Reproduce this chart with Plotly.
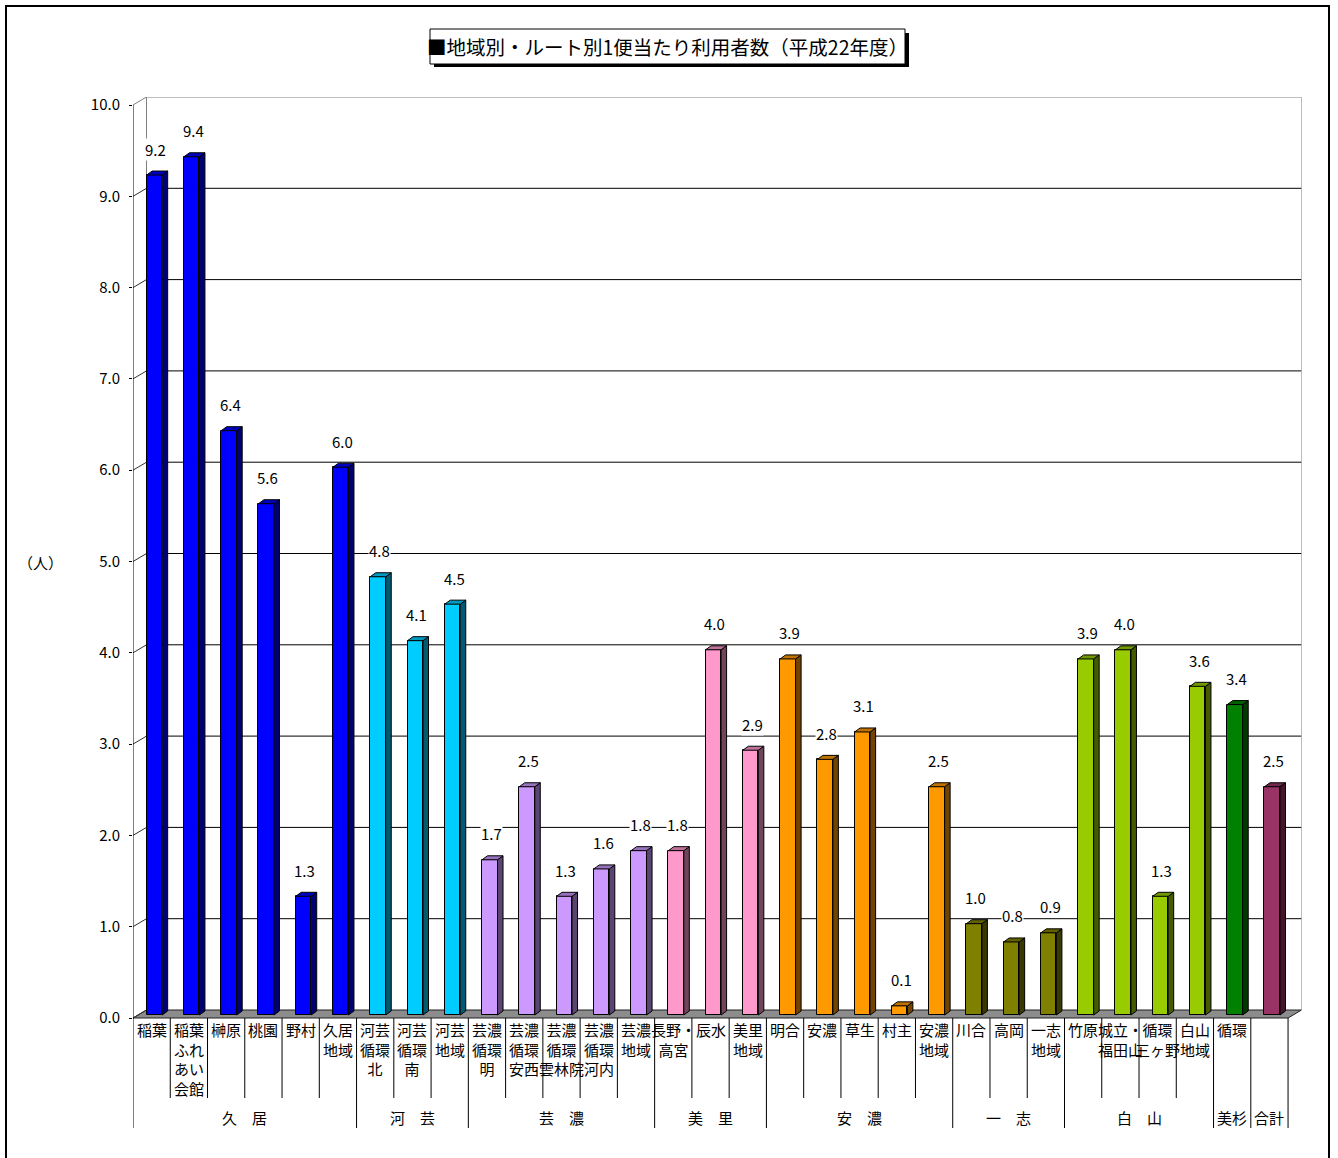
import plotly.graph_objects as go

# ---------------- data ----------------
groups = ["久　居", "河　芸", "芸　濃", "美　里", "安　濃", "一　志", "白　山", "美杉", "合計"]
group_sizes = [6, 3, 5, 3, 5, 3, 4, 1, 1]
group_colors = ["#0000FF", "#00CCFF", "#CC99FF", "#FF99CC", "#FF9900",
                "#808000", "#99CC00", "#008000", "#993366"]

routes = [
    "稲葉", "稲葉\nふれ\nあい\n会館", "榊原", "桃園", "野村", "久居\n地域",
    "河芸\n循環\n北", "河芸\n循環\n南", "河芸\n地域",
    "芸濃\n循環\n明", "芸濃\n循環\n安西", "芸濃\n循環\n雲林院", "芸濃\n循環\n河内", "芸濃\n地域",
    "長野・\n高宮", "辰水", "美里\n地域",
    "明合", "安濃", "草生", "村主", "安濃\n地域",
    "川合", "高岡", "一志\n地域",
    "竹原", "城立・\n福田山", "循環\n三ヶ野", "白山\n地域",
    "循環",
    "",
]

riders = [
    9.2, 9.4, 6.4, 5.6, 1.3, 6.0,
    4.8, 4.1, 4.5,
    1.7, 2.5, 1.3, 1.6, 1.8,
    1.8, 4.0, 2.9,
    3.9, 2.8, 3.1, 0.1, 2.5,
    1.0, 0.8, 0.9,
    3.9, 4.0, 1.3, 3.6,
    3.4,
    2.5,
]

y_ticks = [0, 1, 2, 3, 4, 5, 6, 7, 8, 9, 10]

title = "■地域別・ルート別1便当たり利用者数（平成22年度）"
y_title = "（人）"

# ---------------- geometry (page pixels) ----------------
W, H = 1338, 1158
FONT = "Noto Sans CJK JP"
n = len(routes)

PX_LEFT = 133.0        # front-left corner of the plot
CAT_PX = 37.26         # pixels per category
VAL_PX = 91.3          # pixels per unit on the value axis
Y0_PX = 1018.0         # front zero line
PLOT_BOTTOM_PX = 1020.0
PLOT_TOP_PX = 97.0
DEPTH_PX = (13.5, 8.0)  # oblique depth of the back wall

DX = DEPTH_PX[0] / CAT_PX
DY = DEPTH_PX[1] / VAL_PX
BAR_W = 15.5 / CAT_PX
BAR_SHIFT = 2.8 / CAT_PX
BAR_LIFT = 3.0 / VAL_PX
SIDE_DX = 5.5 / CAT_PX
SIDE_DY = 4.0 / VAL_PX


def px_x(p):
    return p / W


def px_y(p):
    return (H - p) / H


def shade(hex_color, f):
    h = hex_color.lstrip("#")
    r, g, b = (int(h[k:k + 2], 16) for k in (0, 2, 4))
    return "#%02X%02X%02X" % (int(r * f), int(g * f), int(b * f))


# colour of every bar from its group
bar_colors = []
for size, col in zip(group_sizes, group_colors):
    bar_colors += [col] * size

fig = go.Figure()

# front faces of the columns
fig.add_trace(go.Bar(
    x=list(range(n)), y=riders, base=[BAR_LIFT] * n,
    width=BAR_W, offset=BAR_SHIFT - BAR_W / 2,
    marker=dict(color=bar_colors, line=dict(color="#000000", width=1)),
    hoverinfo="skip", showlegend=False,
))

# side and top faces of the columns
for i, v in enumerate(riders):
    xl = i + BAR_SHIFT - BAR_W / 2
    xr = xl + BAR_W
    b = BAR_LIFT
    t = b + v
    side_x = [xr, xr + SIDE_DX, xr + SIDE_DX, xr, xr]
    side_y = [b, b + SIDE_DY, t + SIDE_DY, t, b]
    top_x = [xl, xr, xr + SIDE_DX, xl + SIDE_DX, xl]
    top_y = [t, t, t + SIDE_DY, t + SIDE_DY, t]
    for xs, ys, f in ((side_x, side_y, 0.45), (top_x, top_y, 0.75)):
        fig.add_trace(go.Scatter(
            x=xs, y=ys, mode="lines", fill="toself",
            fillcolor=shade(bar_colors[i], f),
            line=dict(color="#000000", width=1),
            hoverinfo="skip", showlegend=False,
        ))

shapes = []

# floor
x_lo, x_hi = -0.5, n - 0.5
shapes.append(dict(
    type="path", xref="x", yref="y", layer="below",
    path=f"M {x_lo},0 L {x_hi},0 L {x_hi + DX},{DY} L {x_lo + DX},{DY} Z",
    fillcolor="#8C8C8C", line=dict(color="#202020", width=1),
))

# back wall gridlines
for v in y_ticks[1:-1]:
    shapes.append(dict(type="line", xref="x", yref="y", layer="below",
                       x0=x_lo + DX, x1=x_hi + DX, y0=v + DY, y1=v + DY,
                       line=dict(color="#000000", width=1)))
# back wall border
top = y_ticks[-1]
wall = "#808080"
shapes.append(dict(type="path", xref="x", yref="y", layer="below",
                   path=f"M {x_lo + DX},{DY} L {x_lo + DX},{top + DY} "
                        f"L {x_hi + DX},{top + DY} L {x_hi + DX},{DY}",
                   line=dict(color=wall, width=1)))
shapes.append(dict(type="line", xref="x", yref="y", layer="below",
                   x0=x_lo, x1=x_lo + DX, y0=top, y1=top + DY,
                   line=dict(color=wall, width=1)))
# side wall tick connectors
for v in y_ticks[:-1]:
    shapes.append(dict(type="line", xref="x", yref="y", layer="below",
                       x0=x_lo, x1=x_lo + DX, y0=v, y1=v + DY,
                       line=dict(color="#303030", width=1)))
# front value axis
shapes.append(dict(type="line", xref="x", yref="y", layer="above",
                   x0=x_lo, x1=x_lo, y0=0, y1=top,
                   line=dict(color="#000000", width=1)))

# category table separators
group_starts = [0]
for s in group_sizes:
    group_starts.append(group_starts[-1] + s)
for k in range(n + 1):
    long_line = k in group_starts
    shapes.append(dict(type="line", xref="x", yref="paper",
                       x0=k - 0.5, x1=k - 0.5,
                       y0=px_y(Y0_PX), y1=px_y(1128 if long_line else 1098),
                       line=dict(color="#000000", width=1)))

# title box with shadow
shapes.append(dict(type="rect", xref="paper", yref="paper",
                   x0=px_x(434), x1=px_x(909), y0=px_y(33), y1=px_y(67),
                   fillcolor="#000000", line=dict(width=0)))
shapes.append(dict(type="rect", xref="paper", yref="paper",
                   x0=px_x(430), x1=px_x(905), y0=px_y(29), y1=px_y(64),
                   fillcolor="#FFFFFF", line=dict(color="#000000", width=1)))

# outer frame
shapes.append(dict(type="rect", xref="paper", yref="paper",
                   x0=px_x(6), x1=px_x(1329), y0=px_y(1175), y1=px_y(6),
                   line=dict(color="#000000", width=2)))

annotations = []

# value labels above the columns
for i, v in enumerate(riders):
    annotations.append(dict(
        x=i + BAR_SHIFT + 1.5 / CAT_PX, y=BAR_LIFT + v, xref="x", yref="y",
        text=f"{v:.1f}", showarrow=False, yanchor="middle", yshift=26,
        bgcolor="#FFFFFF", borderpad=0,
        font=dict(family=FONT, size=15, color="#000000"),
    ))

# route names
for i, name in enumerate(routes):
    if not name:
        continue
    annotations.append(dict(
        x=i, y=px_y(1017), xref="x", yref="paper",
        text=name.replace("\n", "<br>"), showarrow=False,
        xanchor="center", yanchor="top", align="center",
        font=dict(family=FONT, size=15, color="#000000"),
    ))

# area names
for g, s0, s in zip(groups, group_starts, group_sizes):
    annotations.append(dict(
        x=s0 + (s - 1) / 2, y=px_y(1117), xref="x", yref="paper",
        text=g, showarrow=False, xanchor="center", yanchor="middle",
        font=dict(family=FONT, size=15, color="#000000"),
    ))

# title and unit
annotations.append(dict(
    x=px_x(667.5), y=px_y(46.5), xref="paper", yref="paper",
    text=title, showarrow=False, xanchor="center", yanchor="middle",
    font=dict(family=FONT, size=19.5, color="#000000"),
))
annotations.append(dict(
    x=px_x(40), y=px_y(562), xref="paper", yref="paper",
    text=y_title, showarrow=False, xanchor="center", yanchor="middle",
    font=dict(family=FONT, size=15, color="#000000"),
))

fig.update_layout(
    width=W, height=H,
    margin=dict(l=0, r=0, t=0, b=0),
    paper_bgcolor="#FFFFFF", plot_bgcolor="#FFFFFF",
    font=dict(family=FONT, size=15, color="#000000"),
    showlegend=False,
    bargap=0,
    shapes=shapes,
    annotations=annotations,
    xaxis=dict(
        domain=[px_x(PX_LEFT), px_x(PX_LEFT + CAT_PX * n + DEPTH_PX[0])],
        range=[x_lo, x_hi + DX],
        showgrid=False, zeroline=False, showline=False, automargin=False,
        showticklabels=False, ticks="", fixedrange=True,
    ),
    yaxis=dict(
        domain=[px_y(PLOT_BOTTOM_PX), px_y(PLOT_TOP_PX)],
        range=[-(PLOT_BOTTOM_PX - Y0_PX) / VAL_PX, (Y0_PX - PLOT_TOP_PX) / VAL_PX],
        tickvals=y_ticks, ticktext=[f"{v:.1f}" for v in y_ticks],
        ticks="outside", ticklen=3, tickcolor="#000000",
        ticklabelstandoff=6, automargin=False,
        showgrid=False, zeroline=False, showline=False, fixedrange=True,
        tickfont=dict(family=FONT, size=15, color="#000000"),
    ),
)

fig.write_html(
    "out.html",
    config={"displayModeBar": False},
    post_script="document.body.style.margin='0';document.body.style.overflow='hidden';",
)
